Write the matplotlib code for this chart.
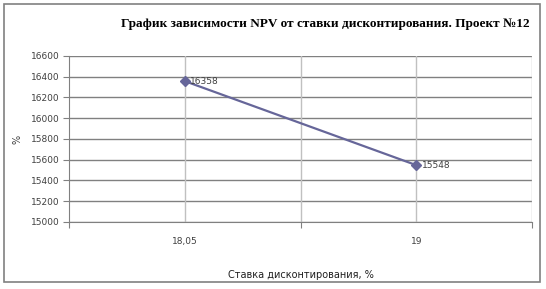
import numpy as np
import matplotlib.pyplot as plt
from matplotlib.patches import Rectangle

# данные
categories = ['18,05', '19']
npv_values = [16358, 15548]
y_ticks = list(range(15000, 16601, 200))

title = 'График зависимости NPV от ставки дисконтирования. Проект №12'
x_label = 'Ставка дисконтирования, %'
y_label = '%'

W, H = 546, 289
fig = plt.figure(figsize=(W / 100, H / 100), dpi=100)

# рамка вокруг диаграммы
fig.patches.append(Rectangle((4 / W, 1 - 282 / H), 536 / W, 278 / H,
                             transform=fig.transFigure, fill=False,
                             edgecolor='#808080', linewidth=1.2))

ax = fig.add_axes([69 / W, 1 - 222 / H, 463 / W, 166 / H])
x = np.arange(len(categories))

ax.set_xlim(-0.5, len(categories) - 0.5)
ax.set_ylim(y_ticks[0], y_ticks[-1])

# сетка: горизонтальная темная, вертикальная светлая
for yv in y_ticks:
    ax.axhline(yv, color='#808080', linewidth=1, zorder=1)
for xv in np.arange(0, len(categories), 0.5):
    ax.axvline(xv, color='#c0c0c0', linewidth=1, zorder=1)

ax.plot(x, npv_values, color='#666699', linewidth=1.6, marker='D',
        markersize=5.5, zorder=3)
for xi, v in zip(x, npv_values):
    ax.annotate(str(v), (xi, v), xytext=(4, 0), textcoords='offset points',
                ha='left', va='center', fontsize=6.5, color='#404040')

for s in ['top', 'right']:
    ax.spines[s].set_visible(False)
ax.spines['left'].set_color('#808080')
ax.spines['bottom'].set_color('#808080')

ax.set_yticks(y_ticks)
ax.set_yticklabels([str(t) for t in y_ticks], fontsize=6.5, color='#404040')
ax.tick_params(axis='y', length=4, color='#808080', pad=3)

# метки категорий в центре, деления на границах
ax.set_xticks(np.arange(-0.5, len(categories), 1.0))
ax.set_xticklabels([])
ax.set_xticks(x, minor=True)
ax.set_xticklabels(categories, minor=True, fontsize=6.5, color='#404040')
ax.tick_params(axis='x', which='major', length=4, color='#808080', direction='out')
ax.tick_params(axis='x', which='minor', length=0, pad=11)

ax.set_xlabel(x_label, fontsize=7, color='#202020', labelpad=17)
ax.set_ylabel(y_label, fontsize=7, color='#404040', labelpad=6)

fig.text(530 / W, 1 - 24 / H, title, ha='right', va='center',
         fontsize=9.5, fontweight='bold', family='Liberation Serif')

fig.savefig('out.png', dpi=100)
